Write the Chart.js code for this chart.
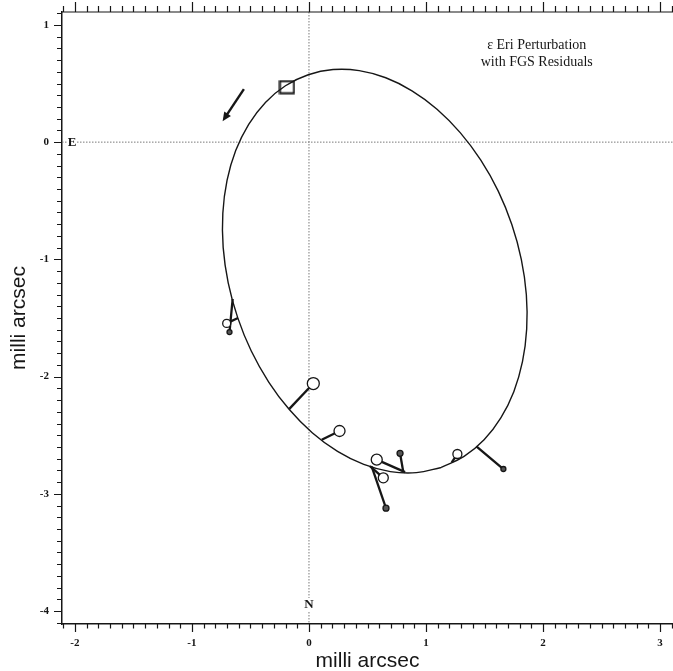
<!DOCTYPE html>
<html>
<head>
<meta charset="utf-8">
<script src="https://cdn.jsdelivr.net/npm/chart.js@4.4.1/dist/chart.umd.min.js"></script>
<style>
  html, body { margin: 0; padding: 0; background: #fff; overflow: hidden; }
  canvas { display: block; }
</style>
</head>
<body>
<canvas id="c" width="673" height="671"></canvas>
<script>
// Apparent perturbation orbit of eps Eri (milli arcsec), traced around the loop
const orbitX = [1.130, 1.325, 1.496, 1.639, 1.750, 1.824, 1.860, 1.857, 1.814, 1.733,
                1.617, 1.468, 1.292, 1.094, 0.880, 0.656, 0.429, 0.206, -0.006, -0.201,
               -0.372, -0.515, -0.626, -0.700, -0.736, -0.733, -0.690, -0.609, -0.493, -0.344,
               -0.168, 0.030, 0.244, 0.468, 0.695, 0.918, 1.130];
const orbitY = [-2.775, -2.681, -2.539, -2.352, -2.128, -1.873, -1.594, -1.300, -1.000, -0.703,
               -0.418, -0.154, 0.081, 0.281, 0.438, 0.549, 0.610, 0.619, 0.575, 0.481,
                0.339, 0.152, -0.072, -0.327, -0.606, -0.900, -1.200, -1.497, -1.782, -2.046,
               -2.281, -2.481, -2.638, -2.749, -2.810, -2.819, -2.775];

// FGS normal points (observed) and their predicted places on the orbit
const obsX = [-0.679, -0.703, 0.037, 0.261, 0.579, 0.778, 0.658, 0.635, 1.268, 1.661];
const obsY = [-1.620, -1.546, -2.059, -2.464, -2.708, -2.654, -3.122, -2.863, -2.660, -2.788];
const fitX = [-0.652, -0.607, -0.168, 0.109, 0.821, 0.806, 0.536, 0.521, 1.220, 1.430];
const fitY = [-1.338, -1.500, -2.275, -2.539, -2.815, -2.815, -2.767, -2.763, -2.732, -2.594];

// Reference epoch on the orbit and direction of motion
const epochX = [-0.188];
const epochY = [0.469];
const motionFrom = [-0.556, 0.452];
const motionTo = [-0.738, 0.179];

// Labelled axis ticks
const xTickValues = [-2, -1, 0, 1, 2, 3];
const yTickValues = [1, 0, -1, -2, -3, -4];

// ---- styling ----
const INK = '#161616';
const obsRadius = [2.5, 4, 6, 5.5, 5.5, 3, 3, 5, 4.5, 2.5];
const SERIF = '"Liberation Serif", "Times New Roman", serif';
const SANS = '"Liberation Sans", Arial, sans-serif';

// open rectangle marker for the epoch
const epochMarker = document.createElement('canvas');
epochMarker.width = 17; epochMarker.height = 15;
(function () {
  const g = epochMarker.getContext('2d');
  g.strokeStyle = INK; g.lineWidth = 2;
  g.strokeRect(1.5, 1.5, 14, 12);
})();

const pts = (xs, ys) => xs.map((x, i) => ({ x, y: ys[i] }));

const datasets = [];
datasets.push({
  type: 'line', data: pts(orbitX, orbitY), borderColor: INK, borderWidth: 1.4,
  pointRadius: 0, tension: 0.4, fill: false, order: 3
});
for (let i = 0; i < obsX.length; i++) {
  datasets.push({
    type: 'line', data: [{ x: fitX[i], y: fitY[i] }, { x: obsX[i], y: obsY[i] }],
    borderColor: INK, borderWidth: 2.3, pointRadius: 0, tension: 0, fill: false, order: 2
  });
}
datasets.push({
  type: 'scatter', data: pts(obsX, obsY), pointStyle: 'circle',
  pointRadius: obsRadius,
  pointBackgroundColor: obsRadius.map(r => r < 3.5 ? '#555' : '#fff'),
  pointBorderColor: INK, pointBorderWidth: 1.3, order: 1
});
datasets.push({
  type: 'scatter', data: pts(epochX, epochY), pointStyle: epochMarker,
  pointRadius: 8, order: 0
});

// frame ticks (major + minor), crosshair lines, annotations
const decor = {
  id: 'decor',
  beforeDatasetsDraw(chart) {
    const { ctx, chartArea: a, scales: { x, y } } = chart;
    const x0 = x.getPixelForValue(0), y0 = y.getPixelForValue(0);
    ctx.save();
    ctx.strokeStyle = '#7a7a7a';
    ctx.lineWidth = 1;
    ctx.setLineDash([1.5, 1.5]);
    ctx.beginPath();
    ctx.moveTo(x0, a.top); ctx.lineTo(x0, a.bottom);
    ctx.moveTo(a.left, y0); ctx.lineTo(a.right, y0);
    ctx.stroke();
    ctx.setLineDash([]);

    ctx.font = 'bold 13px ' + SERIF;
    ctx.textAlign = 'center'; ctx.textBaseline = 'middle';
    // compass letters
    const ex = a.left + 10, ny = a.bottom - 19;
    ctx.fillStyle = '#fff';
    ctx.fillRect(ex - 5, y0 - 6, 10, 12);
    ctx.fillRect(x0 - 5, ny - 7, 10, 14);
    ctx.fillStyle = INK;
    ctx.fillText('E', ex, y0 + 1);
    ctx.fillText('N', x0, ny);

    // plot caption
    ctx.font = '14px ' + SERIF;
    const cx = a.left + 0.777 * (a.right - a.left);
    ctx.fillText('\u03b5 Eri Perturbation', cx, a.top + 33);
    ctx.fillText('with FGS Residuals', cx, a.top + 50);
    ctx.restore();
  },
  afterDatasetsDraw(chart) {
    const { ctx, scales: { x, y } } = chart;
    const x1 = x.getPixelForValue(motionFrom[0]), y1 = y.getPixelForValue(motionFrom[1]);
    const x2 = x.getPixelForValue(motionTo[0]), y2 = y.getPixelForValue(motionTo[1]);
    const ang = Math.atan2(y2 - y1, x2 - x1);
    const hl = 9, hw = 4;
    ctx.save();
    ctx.strokeStyle = INK; ctx.fillStyle = INK; ctx.lineWidth = 2.4;
    ctx.beginPath();
    ctx.moveTo(x1, y1);
    ctx.lineTo(x2 - Math.cos(ang) * hl * 0.8, y2 - Math.sin(ang) * hl * 0.8);
    ctx.stroke();
    ctx.beginPath();
    ctx.moveTo(x2, y2);
    ctx.lineTo(x2 - Math.cos(ang) * hl - Math.sin(ang) * hw, y2 - Math.sin(ang) * hl + Math.cos(ang) * hw);
    ctx.lineTo(x2 - Math.cos(ang) * hl + Math.sin(ang) * hw, y2 - Math.sin(ang) * hl - Math.cos(ang) * hw);
    ctx.closePath();
    ctx.fill();
    ctx.restore();
  },
  afterDraw(chart) {
    const { ctx, chartArea: a, scales: { x, y } } = chart;
    ctx.save();
    ctx.strokeStyle = INK;
    ctx.lineWidth = 1.2;
    ctx.beginPath();
    // top frame line
    ctx.moveTo(a.left - 0.75, a.top); ctx.lineTo(a.right, a.top);
    // x ticks, bottom (outward) and top (outward)
    for (let k = Math.ceil(x.min * 10); k <= Math.floor(x.max * 10); k++) {
      const major = k % 10 === 0;
      const px = Math.round(x.getPixelForValue(k / 10)) + 0.5;
      ctx.moveTo(px, a.bottom); ctx.lineTo(px, a.bottom + (major ? 8 : 4.5));
      ctx.moveTo(px, a.top); ctx.lineTo(px, a.top - (major ? 10 : 6));
    }
    // y ticks, left (outward)
    for (let k = Math.ceil(y.min * 10); k <= Math.floor(y.max * 10); k++) {
      const major = k % 10 === 0;
      const py = Math.round(y.getPixelForValue(k / 10)) + 0.5;
      ctx.moveTo(a.left, py); ctx.lineTo(a.left - (major ? 8 : 5), py);
    }
    ctx.stroke();
    ctx.restore();
  }
};

const noEdgePadding = s => {
  s.paddingLeft = 0; s.paddingRight = 0; s.paddingTop = 0; s.paddingBottom = 0;
};

new Chart(document.getElementById('c'), {
  type: 'scatter',
  data: { datasets },
  options: {
    responsive: false,
    animation: false,
    devicePixelRatio: 1,
    layout: { autoPadding: false, padding: { top: 12, right: 0, bottom: 0, left: 0 } },
    plugins: { legend: { display: false }, tooltip: { enabled: false } },
    scales: {
      x: {
        type: 'linear', position: 'bottom', min: -2.11, max: 3.11,
        afterBuildTicks: s => { s.ticks = xTickValues.map(v => ({ value: v })); },
        afterFit: s => { s.height = 47; noEdgePadding(s); },
        grid: { display: false, drawTicks: false },
        border: { display: true, color: INK, width: 1.5 },
        ticks: {
          padding: 13, color: INK, maxRotation: 0, autoSkip: false,
          font: { family: SERIF, size: 11, weight: 'bold' },
          callback: v => String(v)
        },
        title: {
          display: true, text: 'milli arcsec', color: INK,
          font: { family: SANS, size: 21 }, padding: { top: 0, bottom: -3 }
        }
      },
      y: {
        type: 'linear', position: 'left', min: -4.11, max: 1.11,
        afterBuildTicks: s => { s.ticks = yTickValues.map(v => ({ value: v })); },
        afterFit: s => { s.width = 62; noEdgePadding(s); },
        grid: { display: false, drawTicks: false },
        border: { display: true, color: INK, width: 1.5 },
        ticks: {
          padding: 13, color: INK, autoSkip: false,
          font: { family: SERIF, size: 11, weight: 'bold' },
          callback: v => String(v)
        },
        title: {
          display: true, text: 'milli arcsec', color: INK,
          font: { family: SANS, size: 21 }, padding: { top: 7, bottom: 0 }
        }
      }
    }
  },
  plugins: [decor]
});
</script>
</body>
</html>
